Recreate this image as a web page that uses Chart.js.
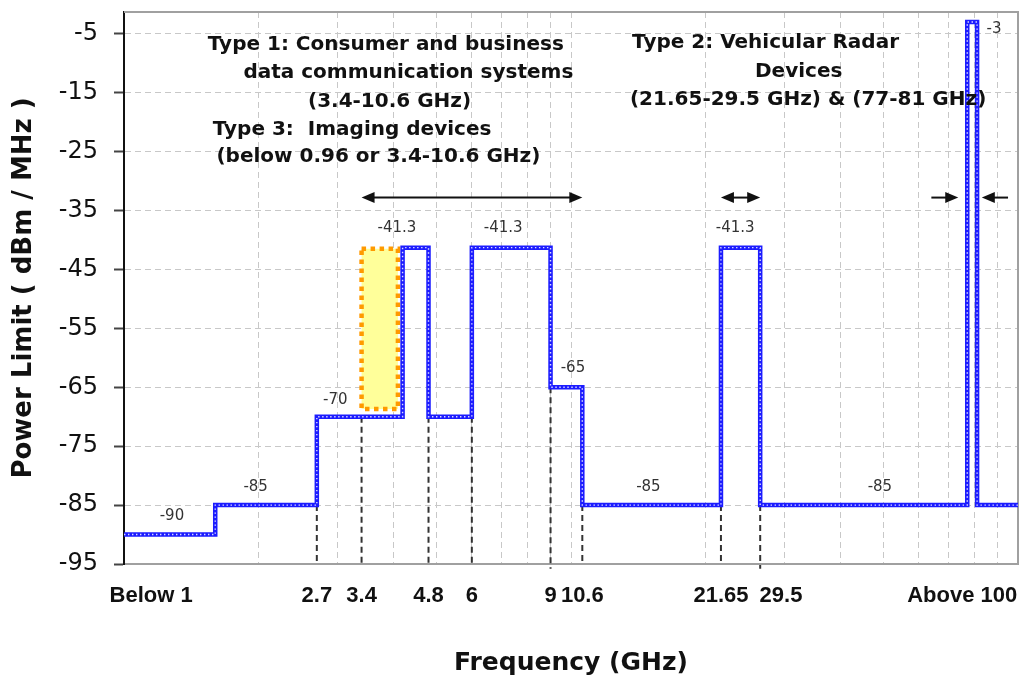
<!DOCTYPE html>
<html><head><meta charset="utf-8">
<script src="https://cdn.jsdelivr.net/npm/chart.js@4.4.0/dist/chart.umd.min.js"></script>
<style>html,body{margin:0;padding:0;background:#fff;} canvas{display:block;}</style>
</head><body>
<canvas id="c" width="1027" height="679"></canvas>
<script>
// ---- Power limit step function (GHz, dBm/MHz) ----
const stepFreq  = [1, 1.6, 1.6, 2.7, 2.7, 4.2, 4.2, 4.8, 4.8, 6, 6, 9, 9, 10.6, 10.6, 21.65, 21.65, 26.5, 26.5, 77, 77, 81, 81, 100];
const stepPower = [-90, -90, -85, -85, -70, -70, -41.3, -41.3, -70, -70, -41.3, -41.3, -65, -65, -85, -85, -41.3, -41.3, -85, -85, -3, -3, -85, -85];

// ---- Imaging devices box ----
const boxFreq  = [3.4, 4.1, 4.1, 3.4, 3.4];
const boxPower = [-41.5, -41.5, -68.7, -68.7, -41.5];

// ---- Dashed drop lines to the axis ----
const dropFreq   = [2.7, 3.4, 4.8, 6, 9, 10.6, 21.65, 26.5];
const dropTop    = [-85, -70, -70, -70, -65, -85, -85, -85];
const dropBottom = [-95, -95, -95, -95.4, -95.8, -95, -95, -95.8];

// ---- Value labels ----
const valueLabelText  = ['-90', '-85', '-70', '-41.3', '-41.3', '-65', '-85', '-41.3', '-85', '-3'];
const valueLabelFreq  = [1.28, 1.97, 2.97, 4.08, 7.05, 10.1, 14.9, 23.3, 49.1, 88.4];
const valueLabelPower = [-86.9, -81.9, -67.2, -37.9, -37.9, -61.8, -82.0, -37.9, -82.0, -4.2];

// ---- Range arrows ----
const arrowFrom  = [3.4, 21.65, 64, 95];
const arrowTo    = [10.6, 26.5, 73.5, 83];
const arrowPower = [-32.8, -32.8, -32.8, -32.8];
const arrowBoth  = [true, true, false, false];

// ---- Annotation text ----
const noteText = [
  'Type 1: Consumer and business',
  'data communication systems',
  '(3.4-10.6 GHz)',
  'Type 3:  Imaging devices',
  '(below 0.96 or 3.4-10.6 GHz)',
  'Type 2: Vehicular Radar',
  'Devices',
  '(21.65-29.5 GHz) & (77-81 GHz)'
];
const noteFreq  = [1.54, 1.85, 2.58, 1.58, 1.61, 13.7, 25.8, 13.55];
const notePower = [-6.9, -11.6, -16.5, -21.3, -25.8, -6.5, -11.4, -16.2];

// ---- Axes ----
const yTicks = [-95, -85, -75, -65, -55, -45, -35, -25, -15, -5];
const gridFreq = [1, 2, 3, 4, 5, 6, 7, 8, 9, 10, 20, 30, 40, 50, 60, 70, 80, 90, 100];
const xTickFreq   = [1.15, 2.7, 3.4, 4.8, 6, 9, 10.6, 21.65, 29.5, 75];
const xTickLabels = ['Below 1', '2.7', '3.4', '4.8', '6', '9', '10.6', '21.65', '29.5', 'Above 100'];

// build datasets from arrays
const stepData = stepFreq.map((f, i) => ({x: f, y: stepPower[i]}));
const boxData = boxFreq.map((f, i) => ({x: f, y: boxPower[i]}));
const dropData = [];
dropFreq.forEach((f, i) => {
  dropData.push({x: f, y: dropTop[i]});
  dropData.push({x: f, y: dropBottom[i]});
  dropData.push({x: f, y: null});
});

const annotations = {
  id: 'annotations',
  beforeDatasetsDraw(chart) {
    const {ctx, chartArea: a} = chart;
    ctx.save();
    ctx.strokeStyle = '#a0a0a0';
    ctx.lineWidth = 2;
    ctx.beginPath();
    ctx.moveTo(a.left, a.top);
    ctx.lineTo(a.right, a.top);
    ctx.lineTo(a.right, a.bottom);
    ctx.stroke();
    ctx.restore();
  },
  afterDatasetsDraw(chart) {
    const {ctx} = chart;
    const xs = chart.scales.x, ys = chart.scales.y;
    ctx.save();
    // arrows
    ctx.strokeStyle = '#111';
    ctx.fillStyle = '#111';
    ctx.lineWidth = 2;
    const head = (xt, y, dir) => {
      ctx.beginPath();
      ctx.moveTo(xt, y);
      ctx.lineTo(xt - dir * 13, y - 5.5);
      ctx.lineTo(xt - dir * 13, y + 5.5);
      ctx.closePath();
      ctx.fill();
    };
    arrowFrom.forEach((f, i) => {
      const x1 = xs.getPixelForValue(f), x2 = xs.getPixelForValue(arrowTo[i]);
      const y = ys.getPixelForValue(arrowPower[i]);
      const dir = x2 > x1 ? 1 : -1;
      ctx.beginPath();
      ctx.moveTo(x1 + (arrowBoth[i] ? dir * 8 : 0), y);
      ctx.lineTo(x2 - dir * 8, y);
      ctx.stroke();
      head(x2, y, dir);
      if (arrowBoth[i]) head(x1, y, -dir);
    });
    // value labels
    ctx.font = '15px "DejaVu Sans"';
    ctx.fillStyle = '#333';
    ctx.textAlign = 'center';
    ctx.textBaseline = 'middle';
    valueLabelText.forEach((t, i) => {
      ctx.fillText(t, xs.getPixelForValue(valueLabelFreq[i]), ys.getPixelForValue(valueLabelPower[i]));
    });
    // notes
    ctx.font = 'bold 20px "DejaVu Sans"';
    ctx.fillStyle = '#111';
    ctx.textAlign = 'left';
    noteText.forEach((t, i) => {
      ctx.fillText(t, xs.getPixelForValue(noteFreq[i]), ys.getPixelForValue(notePower[i]));
    });
    ctx.restore();
  }
};

new Chart(document.getElementById('c'), {
  type: 'line',
  data: {
    datasets: [
      {
        label: 'dots', data: stepData, order: 0,
        borderColor: 'rgba(255,255,255,0.85)', borderWidth: 1.4, borderDash: [1.4, 2.6],
        pointRadius: 0, fill: false, tension: 0, borderJoinStyle: 'miter'
      },
      {
        label: 'Power limit', data: stepData, order: 1,
        borderColor: '#1c1cff', borderWidth: 4.5,
        pointRadius: 0, fill: false, tension: 0, borderJoinStyle: 'miter'
      },
      {
        label: 'Imaging', data: boxData, order: 2,
        borderColor: '#ff9a00', borderWidth: 4.5, borderDash: [4.5, 4.5],
        backgroundColor: '#ffff9a', fill: 'shape',
        pointRadius: 0, tension: 0
      },
      {
        label: 'Drops', data: dropData, order: 3, clip: false,
        borderColor: '#333', borderWidth: 2, borderDash: [6, 4],
        pointRadius: 0, fill: false, spanGaps: false
      }
    ]
  },
  options: {
    responsive: false,
    animation: false,
    devicePixelRatio: 1,
    layout: {padding: {top: 12, right: 9, left: 0, bottom: 0}},
    plugins: {legend: {display: false}, tooltip: {enabled: false}},
    scales: {
      x: {
        type: 'logarithmic', position: 'bottom', min: 1, max: 100,
        afterBuildTicks: s => { s.ticks = gridFreq.map(v => ({value: v})); },
        afterFit: s => { s.height = 0; s.paddingLeft = 0; s.paddingRight = 0; },
        ticks: {display: false},
        grid: {color: '#c8c8c8', lineWidth: 1, drawTicks: false},
        border: {color: '#a0a0a0', width: 2, dash: [6, 4]}
      },
      xl: {
        type: 'logarithmic', position: 'bottom', min: 1, max: 100,
        afterBuildTicks: s => { s.ticks = xTickFreq.map(v => ({value: v})); },
        afterFit: s => { s.height = 115; s.paddingLeft = 0; s.paddingRight = 0; },
        ticks: {
          autoSkip: false, maxRotation: 0, minRotation: 0, padding: 19,
          color: '#111', font: {family: '"Liberation Sans"', size: 22, weight: 'bold'},
          callback: (v, i) => xTickLabels[i]
        },
        grid: {display: false, drawTicks: false},
        border: {display: false},
        title: {
          display: true, text: 'Frequency (GHz)', color: '#111',
          font: {family: '"DejaVu Sans"', size: 25, weight: 'bold'},
          padding: {top: 0, bottom: 1}
        }
      },
      y: {
        type: 'linear', min: -95, max: -1.3,
        afterBuildTicks: s => { s.ticks = yTicks.map(v => ({value: v})); },
        afterFit: s => { s.width = 124; s.paddingTop = 0; s.paddingBottom = 0; },
        ticks: {
          padding: 16, color: '#111',
          font: {family: '"DejaVu Sans"', size: 24},
          callback: v => String(v)
        },
        grid: {color: '#c8c8c8', lineWidth: 1, tickLength: 10, tickColor: '#444', tickWidth: 2},
        border: {color: '#111', width: 2, dash: [6, 4]},
        title: {
          display: true, text: 'Power Limit ( dBm / MHz )', color: '#111',
          font: {family: '"DejaVu Sans"', size: 26, weight: 'bold'},
          padding: {top: 9, bottom: 0}
        }
      }
    }
  },
  plugins: [annotations]
});
</script>
</body></html>
